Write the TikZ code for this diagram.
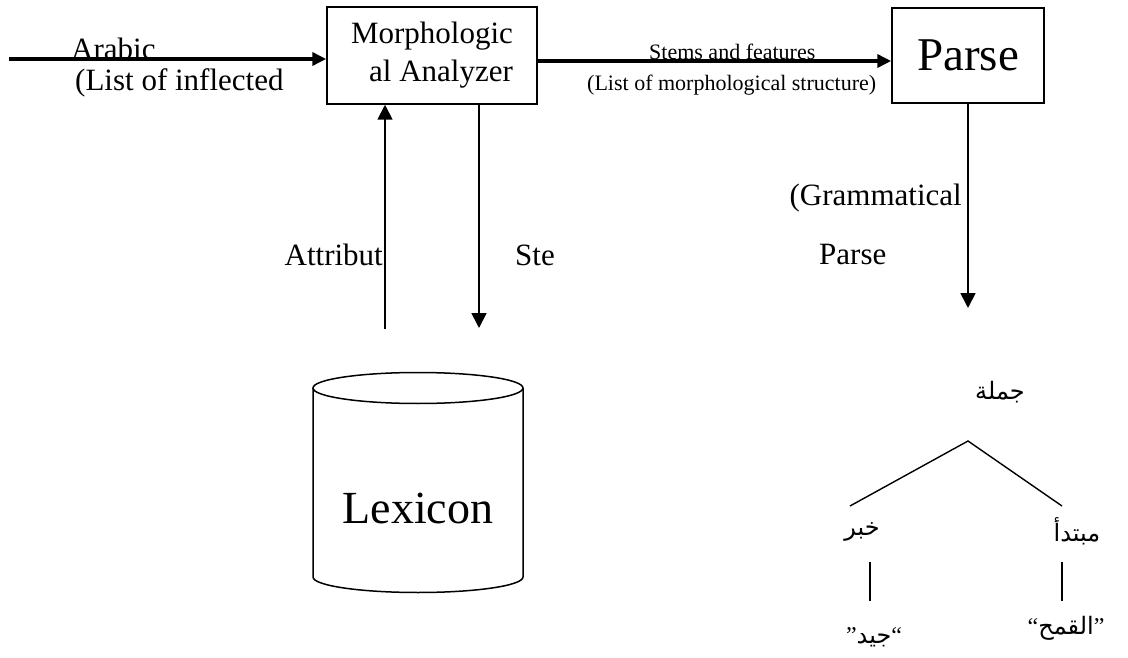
\documentclass[tikz,border=0pt]{standalone}
\usepackage{fontspec}
\setmainfont{Liberation Serif}
\newfontfamily\arabicfont[Script=Arabic]{DejaVu Sans}
\TeXXeTstate=1
\usetikzlibrary{arrows.meta}

\tikzset{
  procbox/.style={draw, line width=1.5pt, inner sep=0pt},
  flow/.style={line width=3.5pt, -{Triangle[length=14pt,width=13pt]}},
  vflow/.style={line width=1.8pt, -{Triangle[length=15pt,width=15pt]}},
  treeline/.style={line width=1.4pt},
  bigtxt/.style={font=\fontsize{31}{38}\selectfont},
  smalltxt/.style={font=\fontsize{22}{26}\selectfont},
  artxt/.style={font=\arabicfont\fontsize{24}{28}\selectfont, inner sep=0pt}
}

\begin{document}
\begin{tikzpicture}[x=1pt, y=-1pt]
\useasboundingbox (0,0) rectangle (1128,658);

% processing boxes
\node[procbox, minimum width=210pt, minimum height=97pt, bigtxt, align=right]
  (morph) at (432,55.5) {Morphologic\\al Analyzer};
\node[procbox, minimum width=152pt, minimum height=95pt,
  font=\fontsize{47}{50}\selectfont] (parse) at (968,55.5) {Parse};

% lexicon cylinder
\draw[line width=1.5pt] (418,388) ellipse[x radius=105, y radius=15.5];
\draw[line width=1.5pt] (313,388) -- (313,577)
  arc[start angle=180, end angle=0, x radius=105, y radius=15.5] -- (523,388);
\node[font=\fontsize{46}{50}\selectfont, anchor=base] (lex) at (418,523) {Lexicon};

% input word list
\coordinate (src) at (9,59);
\draw[flow] (src) -- (morph.west |- src);
\node[bigtxt, anchor=base west, inner sep=0pt] (lblarabic) at (71,60) {Arabic};
\node[bigtxt, anchor=base west, inner sep=0pt] (lbllist) at (75,91) {(List of inflected};

% morphological output to the parser
\coordinate (stemrow) at (0,61);
\draw[flow] (morph.east |- stemrow) -- (parse.west |- stemrow);
\node[smalltxt, anchor=base west, inner sep=0pt] (lblstems) at (649,60) {Stems and features};
\node[smalltxt, anchor=base west, inner sep=0pt] (lblmorph) at (587,91) {(List of morphological structure)};

% lexicon lookups
\coordinate (attrbot) at (385,329);
\coordinate (stembot) at (479,328);
\draw[vflow] (attrbot) -- (morph.south -| attrbot);
\draw[vflow] (morph.south -| stembot) -- (stembot);
\node[bigtxt, anchor=base east, inner sep=0pt] (lblattr) at (383,265) {Attribut};
\node[bigtxt, anchor=base west, inner sep=0pt] (lblste) at (515,265) {Ste};

% parser output
\coordinate (treetip) at (968,308);
\draw[vflow] (parse.south) -- (treetip);
\node[bigtxt, anchor=base east, inner sep=0pt] (lblgram) at (962,205) {(Grammatical};
\node[bigtxt, anchor=base west, inner sep=0pt] (lblparse) at (819,264) {Parse};

% parse tree
\node[artxt] (root) at (1000,392) {\beginR جملة\endR};
\coordinate (apex) at (968,441);
\coordinate (lend) at (850,506);
\coordinate (rend) at (1062,506);
\draw[treeline] (lend) -- (apex) -- (rend);
\node[artxt] (khabar) at (862,532) {\beginR خبر\endR};
\node[artxt] (mubtada) at (1077,531) {\beginR مبتدأ\endR};
\coordinate (kbtop) at (870,562);
\coordinate (kbbot) at (870,601);
\coordinate (mbtop) at (1062,562);
\coordinate (mbbot) at (1062,601);
\draw[treeline] (kbtop) -- (kbbot);
\draw[treeline] (mbtop) -- (mbbot);
\node[artxt] (jayyid) at (874,637)
  {{\rmfamily\fontsize{24}{28}\selectfont ”}\beginR جيد\endR{\rmfamily\fontsize{24}{28}\selectfont “}};
\node[artxt] (qamh) at (1066,628)
  {{\rmfamily\fontsize{24}{28}\selectfont “}\beginR القمح\endR{\rmfamily\fontsize{24}{28}\selectfont ”}};
\end{tikzpicture}
\end{document}
